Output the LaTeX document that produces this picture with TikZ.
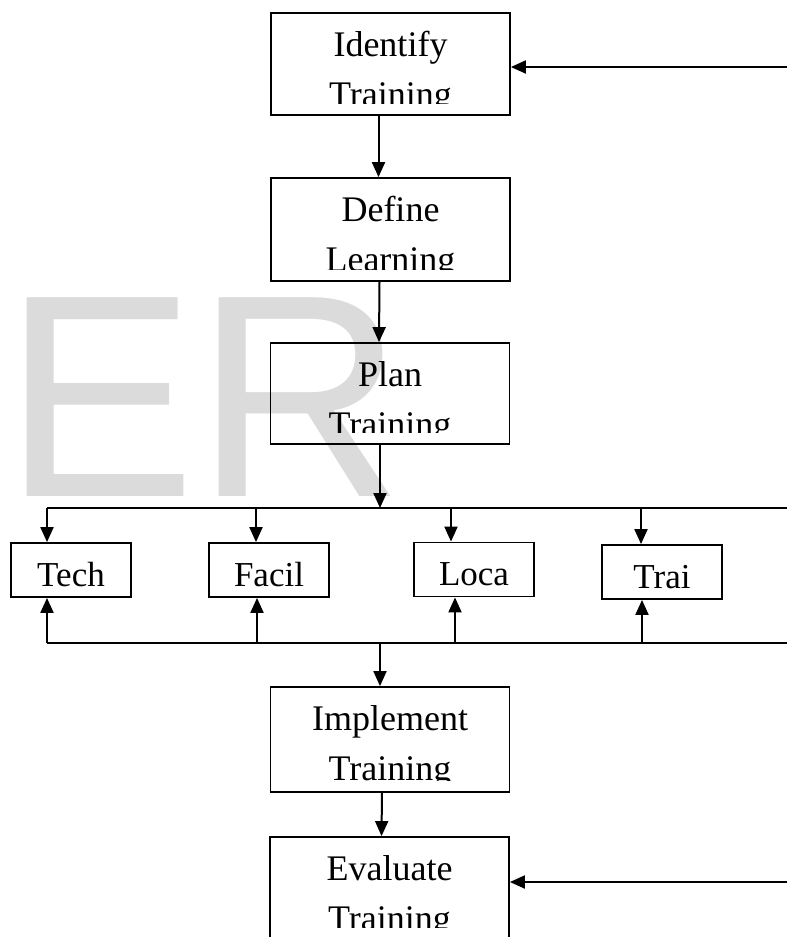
\documentclass[tikz,border=0pt]{standalone}
\usepackage{fontspec}
\setmainfont{Liberation Serif}
\newfontfamily\markfont{Liberation Sans}
\usetikzlibrary{arrows.meta}
\tikzstyle{boxStep} = [rectangle, minimum width=239pt, minimum height=102pt, draw=black, line width=1.8pt, inner sep=0pt]
\tikzstyle{boxText} = [align=center, inner sep=0pt, anchor=north, font=\fontsize{36}{50}\selectfont]
\tikzstyle{boxSmall} = [rectangle, minimum width=120pt, minimum height=54pt, text height=32pt, text depth=0pt, draw=black, line width=1.8pt, inner sep=0pt, font=\fontsize{35}{40}\selectfont]
\tikzstyle{arrow} = [line width=2pt, -{Triangle[length=15pt,width=13pt]}]
\tikzstyle{bus} = [line width=2pt]

\begin{document}
\begin{tikzpicture}[x=1pt, y=-1pt]

\clip (0,0) rectangle (787,937);

% watermark behind everything
\node (mark) [anchor=base west, inner sep=0pt, text=black!14, font=\markfont\fontsize{289}{289}\selectfont] at (3,496) {ER};

\node (identify) [boxStep] at (390.5,64) {};
\node (define) [boxStep, minimum height=103pt] at (390.5,229.5) {};
\node (plan) [boxStep, minimum height=101pt] at (390,393.5) {};
\node (implement) [boxStep, minimum height=105pt] at (390,739.5) {};
\node (evaluate) [boxStep] at (389.5,888) {};

\begin{scope}
\clip (identify.north west) rectangle ([yshift=12pt]identify.south east);
\node (identifyText) [boxText] at ([yshift=-19pt]identify.north) {Identify\\Training};
\end{scope}
\begin{scope}
\clip (define.north west) rectangle ([yshift=12pt]define.south east);
\node (defineText) [boxText] at ([yshift=-19pt]define.north) {Define\\Learning};
\end{scope}
\begin{scope}
\clip (plan.north west) rectangle ([yshift=12pt]plan.south east);
\node (planText) [boxText] at ([yshift=-19pt]plan.north) {Plan\\Training};
\end{scope}
\begin{scope}
\clip (implement.north west) rectangle ([yshift=12pt]implement.south east);
\node (implementText) [boxText] at ([yshift=-19pt]implement.north) {Implement\\Training};
\end{scope}
\begin{scope}
\clip (evaluate.north west) rectangle ([yshift=12pt]evaluate.south east);
\node (evaluateText) [boxText] at ([yshift=-19pt]evaluate.north) {Evaluate\\Training};
\end{scope}

\node (tech) [boxSmall] at (71,570) {Tech};
\node (facil) [boxSmall] at (269,570) {Facil};
\node (loca) [boxSmall] at (474,569.5) {Loca};
\node (trai) [boxSmall] at (662,572) {Trai};

\coordinate (feedTop) at (787,67);
\coordinate (feedBot) at (787,882);
\coordinate (busTop) at (47,508);
\coordinate (busTopEnd) at (787,508);
\coordinate (busBot) at (47,643);
\coordinate (busBotEnd) at (787,643);
\coordinate (split) at (380,508);
\coordinate (join) at (380,643);

\draw [arrow] (feedTop) -- (feedTop -| identify.east);
\draw [arrow] ([xshift=-12pt]identify.south) -- ([xshift=-12pt]define.north);
\draw [arrow] ([xshift=-11pt]define.south) -- ([xshift=-11pt]plan.north);
\draw [arrow] (plan.south -| split) -- (split);
\draw [bus] (busTop) -- (busTopEnd);
\draw [bus] (busBot) -- (busBotEnd);

\foreach \n/\dx/\ux in {tech/-24/-24, facil/-13/-12, loca/-23/-19, trai/-21/-20} {
  \coordinate (in\n) at ([xshift=\dx pt]\n.north);
  \coordinate (out\n) at ([xshift=\ux pt]\n.south);
  \draw [arrow] (in\n |- busTop) -- (in\n);
  \draw [arrow] (out\n |- busBot) -- (out\n);
}

\draw [arrow] (join) -- (join |- implement.north);
\draw [arrow] ([xshift=-8pt]implement.south) -- ([xshift=-8pt]evaluate.north);
\draw [arrow] (feedBot) -- (feedBot -| evaluate.east);

\end{tikzpicture}
\end{document}
